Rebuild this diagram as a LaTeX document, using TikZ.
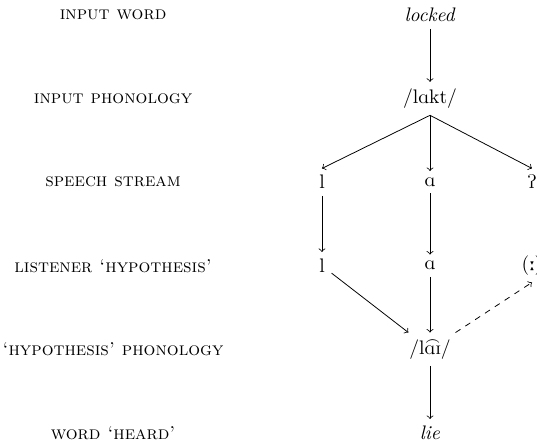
\documentclass[tikz,border=0pt]{standalone}
\usepackage{tipa}
\usetikzlibrary{calc}

\begin{document}
\begin{tikzpicture}[lab/.style={font=\fontsize{9.5pt}{11pt}\selectfont}]
            \useasboundingbox (-7.72, 0.27) rectangle (1.92, -7.70);
            \node[lab] (lw) at (-5.69, 0) {\textsc{input word}};
            \node[lab] (lp) at (-5.69, -1.5) {\textsc{input phonology}};
            \node[lab] (ls) at (-5.69, -3) {\textsc{speech stream}};
            \node[lab] (lh) at (-5.69, -4.5) {\textsc{listener `hypothesis'}};
            \node[lab] (lhp) at (-5.69, -6) {\textsc{`hypothesis' phonology}};
            \node[lab] (lwh) at (-5.69, -7.5) {\textsc{word `heard'}};
            \node (w) at (0, 0) {\textit{locked}};
            \node (p) at (0, -1.5) {\textipa{/lAkt/}};
            \node (s1) at (-1.94, -3) {\textipa{l}};
            \node (s2) at (0, -3) {\textipa{A}};
            \node (s3) at (1.83, -3) {\textipa{P}};
            \node (h1) at (-1.94, -4.5) {\textipa{l}};
            \node (h2) at (0, -4.5) {\textipa{A}};
            \node (h3) at (1.83, -4.5) {\textipa{(:)}};
            \node (hp) at (0, -6) {\textipa{/l\t{AI}/}};
            \node (wh) at (0, -7.5) {\textit{lie}};
            \draw[->] (w) -- (p);
            \draw[->] (p.south) -- (s1.north);
            \draw[->] (p.south) -- (s2.north);
            \draw[->] (p.south) -- (s3.north);
            \draw[->] (s1) -- (h1);
            \draw[->] (s2) -- (h2);
            \draw[->] (h1) -- (hp);
            \draw[->] (h2) -- (hp);
            \draw[->, dashed] (hp) -- (h3.south);
            \draw[->] (hp) -- (wh);
        \end{tikzpicture}
\end{document}
